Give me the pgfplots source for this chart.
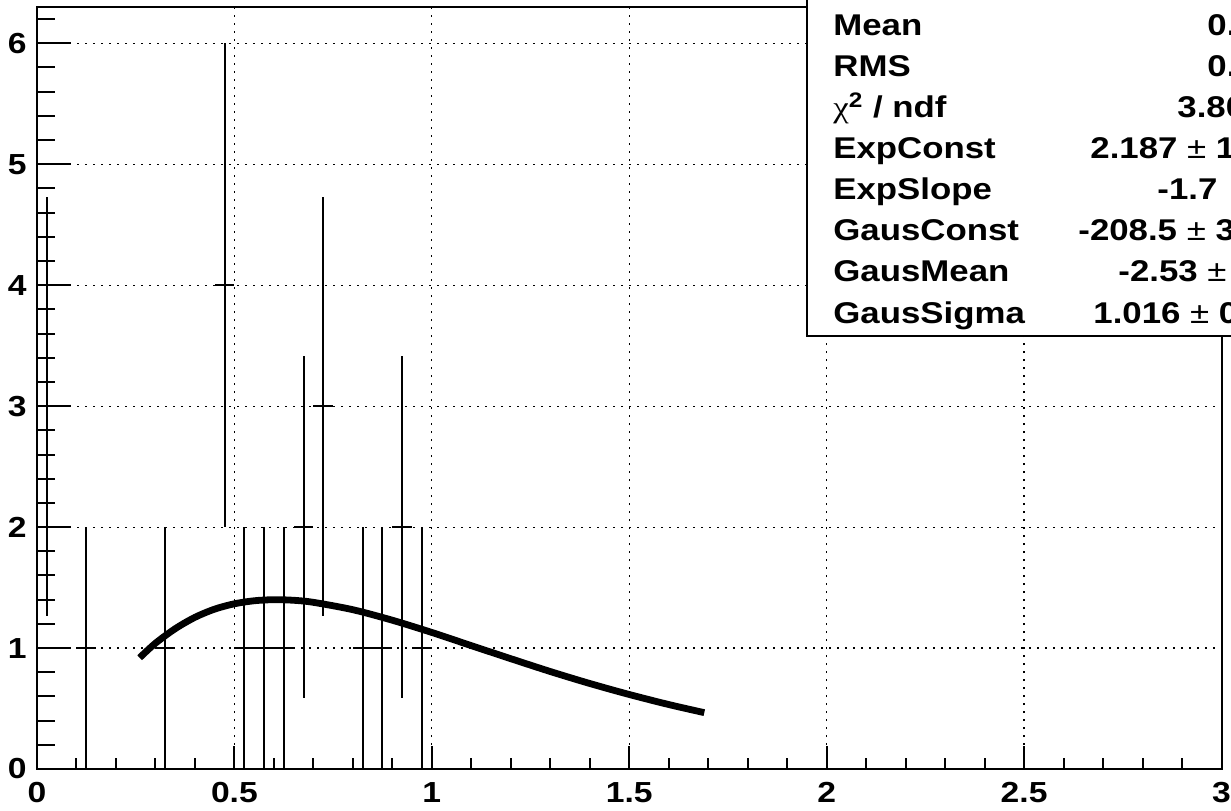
\documentclass[border=0pt]{standalone}
\usepackage{pgfplots}
\usepackage{pgfplotstable}
\pgfplotsset{compat=1.18}
\usepackage{fontspec}
\setmainfont{Liberation Sans}[FakeStretch=1.16]
\newfontfamily\serifgr{Liberation Serif}[FakeStretch=1.16]

\pgfplotstableread{
x y ex ey
0.025 3 0.025 1.732
0.125 1 0.025 1
0.325 1 0.025 1
0.475 4 0.025 2
0.525 1 0.025 1
0.575 1 0.025 1
0.625 1 0.025 1
0.675 2 0.025 1.414
0.725 3 0.025 1.732
0.825 1 0.025 1
0.875 1 0.025 1
0.925 2 0.025 1.414
0.975 1 0.025 1
}\histdata

\newcommand{\statfont}{\bfseries\fontsize{15}{17}\selectfont}
\newcommand{\tickfont}{\bfseries\fontsize{14.5}{16}\selectfont}

\begin{document}
\begin{tikzpicture}[x=1pt,y=1pt]
\useasboundingbox (0,0) rectangle (615.5,405);
\clip (0,0) rectangle (615.5,405);
\begin{axis}[
  at={(18.5pt,20.5pt)}, anchor=south west,
  scale only axis, width=592.25pt, height=381pt,
  xmin=0, xmax=3, ymin=0, ymax=6.30,
  axis line style={line width=1pt},
  xtick={0,0.5,1,1.5,2,2.5,3},
  xticklabels={0,0.5,1,1.5,2,2.5,3},
  ytick={0,1,2,3,4,5,6},
  yticklabels={0,1,2,3,4,5,6},
  minor xtick={0.1,0.2,0.3,0.4,0.6,0.7,0.8,0.9,1.1,1.2,1.3,1.4,1.6,1.7,1.8,1.9,2.1,2.2,2.3,2.4,2.6,2.7,2.8,2.9},
  minor ytick={0.2,0.4,0.6,0.8,1.2,1.4,1.6,1.8,2.2,2.4,2.6,2.8,3.2,3.4,3.6,3.8,4.2,4.4,4.6,4.8,5.2,5.4,5.6,5.8,6.2},
  tick align=inside,
  xtick pos=bottom, ytick pos=left,
  tick style={line width=1pt, black},
  major tick length=11.5pt, minor tick length=5.5pt,
  grid=major,
  major grid style={line width=0.6pt, black, dash pattern=on 1.2pt off 2.8pt},
  ticklabel style={font=\tickfont, inner sep=0pt},
  xticklabel style={yshift=-6.5pt},
  yticklabel style={xshift=-5pt},
]
\addplot[draw=none, mark=none,
  error bars/.cd, x dir=both, x explicit, y dir=both, y explicit,
  error mark=none, error bar style={draw=black, line width=1pt, solid}]
  table[x=x, y=y, x error=ex, y error=ey] {\histdata};
\addplot[line width=3.4pt, black, smooth] coordinates {
(0.26,0.920) (0.30,1.040) (0.35,1.160) (0.40,1.254) (0.45,1.322)
(0.50,1.366) (0.55,1.391) (0.60,1.400) (0.65,1.395) (0.70,1.378)
(0.80,1.317) (0.90,1.230) (1.00,1.129) (1.10,1.020) (1.20,0.912)
(1.30,0.806) (1.40,0.707) (1.50,0.616) (1.60,0.533) (1.69,0.466)
};
\end{axis}
\begin{axis}[
  at={(18.5pt,20.5pt)}, anchor=south west,
  scale only axis, width=592.25pt, height=381pt,
  xmin=0, xmax=3, ymin=0, ymax=6.30,
  axis line style={draw=none},
  xtick=\empty,
  ytick={0,1,2,3,4,5,6},
  yticklabels={},
  minor ytick={0.2,0.4,0.6,0.8,1.2,1.4,1.6,1.8,2.2,2.4,2.6,2.8,3.2,3.4,3.6,3.8,4.2,4.4,4.6,4.8,5.2,5.4,5.6,5.8,6.2},
  tick align=inside, ytick pos=left,
  tick style={line width=1pt, black},
  major tick length=17pt, minor tick length=9pt,
]
\end{axis}
\draw[line width=1pt, fill=white] (403.5,237) rectangle (640,420);
\node[anchor=base west, inner sep=0pt, font=\statfont] at (416.5,387) {Mean};
\node[anchor=base west, inner sep=0pt, font=\statfont] at (416.5,366.5) {RMS};
\node[anchor=base west, inner sep=0pt, font=\statfont] at (416.5,346) {{\serifgr\mdseries χ}\textsuperscript{2} / ndf};
\node[anchor=base west, inner sep=0pt, font=\statfont] at (416.5,325.5) {ExpConst};
\node[anchor=base west, inner sep=0pt, font=\statfont] at (416.5,305) {ExpSlope};
\node[anchor=base west, inner sep=0pt, font=\statfont] at (416.5,284.5) {GausConst};
\node[anchor=base west, inner sep=0pt, font=\statfont] at (416.5,264) {GausMean};
\node[anchor=base west, inner sep=0pt, font=\statfont] at (416.5,243.5) {GausSigma};
\node[anchor=base west, inner sep=0pt, font=\statfont] at (603.5,387) {0.};
\node[anchor=base west, inner sep=0pt, font=\statfont] at (603.5,366.5) {0.};
\node[anchor=base west, inner sep=0pt, font=\statfont] at (588.5,346) {3.80};
\node[anchor=base west, inner sep=0pt, font=\statfont] at (545,325.5) {2.187 {\mdseries±} 1};
\node[anchor=base west, inner sep=0pt, font=\statfont] at (578.5,305) {-1.7};
\node[anchor=base west, inner sep=0pt, font=\statfont] at (539,284.5) {-208.5 {\mdseries±} 3};
\node[anchor=base west, inner sep=0pt, font=\statfont] at (559,264) {-2.53 {\mdseries±}};
\node[anchor=base west, inner sep=0pt, font=\statfont] at (546.5,243.5) {1.016 {\mdseries±} 0};
\end{tikzpicture}
\end{document}
